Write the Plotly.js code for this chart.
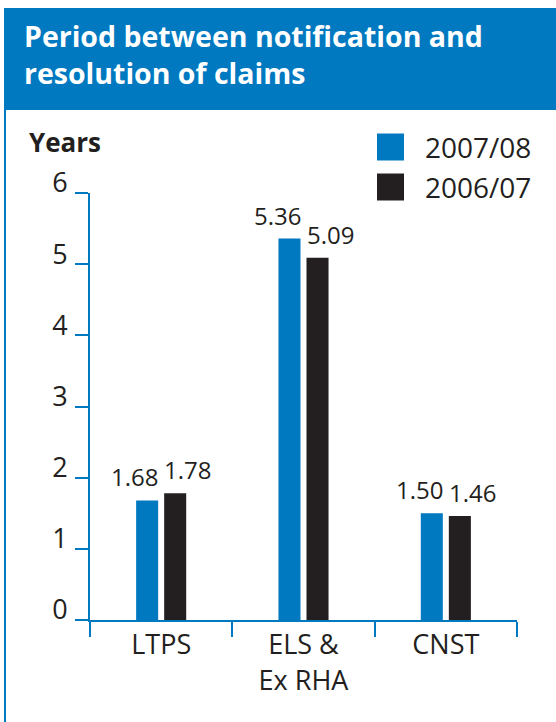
<!DOCTYPE html>
<html>
<head>
<meta charset="utf-8">
<script src="https://cdn.plot.ly/plotly-3.0.1.min.js"></script>
<style>
html,body{margin:0;padding:0;background:#fff;}
#chart{width:556px;height:722px;}
</style>
</head>
<body>
<div id="chart"></div>
<script>
// ---- data ----
const categories = ["LTPS", "ELS &<br>Ex RHA", "CNST"];
const seriesNames = ["2007/08", "2006/07"];
const values0708 = [1.68, 5.36, 1.50];
const values0607 = [1.78, 5.09, 1.46];
const valueLabels0708 = ["1.68", "5.36", "1.50"];
const valueLabels0607 = ["1.78", "5.09", "1.46"];
const yTicks = [0, 1, 2, 3, 4, 5, 6];
const titleText = "Period between notification and<br>resolution of claims";
const yUnit = "Years";

// ---- styling ----
const BLUE = "#0079C1";
const DARK = "#231F20";
const FONT = "'Open Sans', 'Noto Sans', sans-serif";
const W = 556, H = 722;
const M = {l: 90, r: 39, t: 193, b: 102};
const PW = W - M.l - M.r, PH = H - M.t - M.b;
const px2x = p => (p - M.l) / PW;
const px2y = p => (H - M.b - p) / PH;

const traces = [
  {type: "bar", name: seriesNames[0], x: categories, y: values0708,
   marker: {color: BLUE}, showlegend: false, hoverinfo: "skip"},
  {type: "bar", name: seriesNames[1], x: categories, y: values0607,
   marker: {color: DARK}, showlegend: false, hoverinfo: "skip"}
];

const annotations = [];
categories.forEach((c, i) => {
  annotations.push({x: c, y: values0708[i], xref: "x", yref: "y", text: valueLabels0708[i],
    showarrow: false, xanchor: "right", yanchor: "bottom", xshift: -1, yshift: 5,
    font: {family: FONT, size: 24, color: DARK}});
  annotations.push({x: c, y: values0607[i], xref: "x", yref: "y", text: valueLabels0607[i],
    showarrow: false, xanchor: "left", yanchor: "bottom", xshift: 1, yshift: 5,
    font: {family: FONT, size: 24, color: DARK}});
});
annotations.push({x: px2x(27), y: px2y(142), xref: "paper", yref: "paper", text: "<b>" + yUnit + "</b>",
  showarrow: false, xanchor: "left", yanchor: "middle",
  font: {family: FONT, size: 26, color: DARK}});
// legend
const legendColors = [BLUE, DARK];
const legendY = [147, 187];
const shapes = [
  {type: "rect", xref: "paper", yref: "paper", x0: px2x(4), x1: px2x(556), y0: px2y(110), y1: px2y(8),
   fillcolor: BLUE, line: {width: 0}, layer: "below"},
  {type: "line", xref: "paper", yref: "paper", x0: px2x(5), x1: px2x(5), y0: px2y(110), y1: px2y(722),
   line: {color: BLUE, width: 2}}
];
seriesNames.forEach((n, i) => {
  shapes.push({type: "rect", xref: "paper", yref: "paper",
    x0: px2x(377), x1: px2x(404), y0: px2y(legendY[i] + 13.5), y1: px2y(legendY[i] - 13.5),
    fillcolor: legendColors[i], line: {width: 0}});
  annotations.push({x: px2x(423), y: px2y(legendY[i]), xref: "paper", yref: "paper", text: n,
    showarrow: false, xanchor: "left", yanchor: "middle",
    font: {family: FONT, size: 28, color: DARK}});
});

const layout = {
  width: W, height: H,
  margin: M,
  paper_bgcolor: "#fff", plot_bgcolor: "#fff",
  font: {family: FONT, color: DARK},
  title: {text: "<b>" + titleText + "</b>", xref: "container", yref: "container",
    x: 24 / W, xanchor: "left", y: 1 - 47 / H, yanchor: "top",
    font: {family: FONT, size: 28.5, color: "#ffffff"}},
  barmode: "group",
  bargap: 0.606,
  bargroupgap: 0.214,
  xaxis: {type: "category", showline: true, linecolor: BLUE, linewidth: 2,
    ticks: "outside", tickson: "boundaries", ticklen: 15, tickwidth: 2, tickcolor: BLUE,
    showgrid: false, zeroline: false, fixedrange: true,
    tickfont: {family: FONT, size: 27, color: DARK}},
  yaxis: {range: [0, 6], tickvals: yTicks, showline: true, linecolor: BLUE, linewidth: 2,
    ticks: "outside", ticklen: 13, tickwidth: 2, tickcolor: BLUE,
    showgrid: false, zeroline: false, fixedrange: true,
    ticklabelshift: -10, ticklabelstandoff: 2,
    tickfont: {family: FONT, size: 27, color: DARK}},
  shapes: shapes,
  annotations: annotations
};

Plotly.newPlot("chart", traces, layout, {staticPlot: true, displayModeBar: false});
</script>
</body>
</html>
